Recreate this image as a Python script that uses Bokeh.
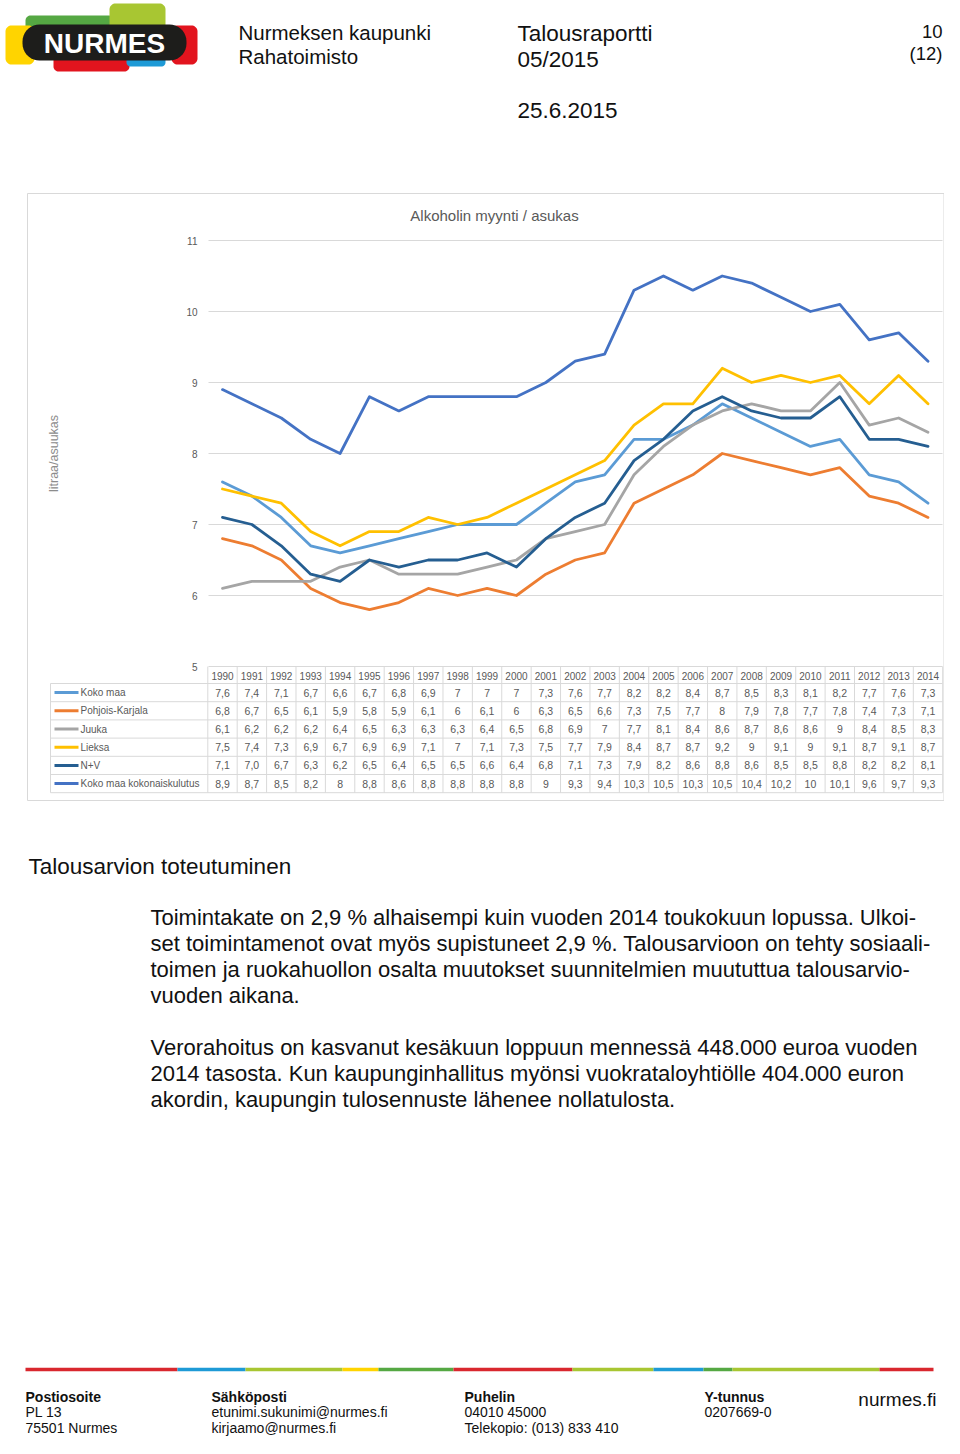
import numpy as np
from bokeh.plotting import figure
from bokeh.models import Range1d, ColumnDataSource
from bokeh.core.properties import value
from bokeh.embed import file_html
from bokeh.resources import INLINE

# ---------------- data ----------------
years = list(range(1990, 2015))
koko_maa = [7.6, 7.4, 7.1, 6.7, 6.6, 6.7, 6.8, 6.9, 7, 7, 7, 7.3, 7.6, 7.7, 8.2, 8.2, 8.4, 8.7, 8.5, 8.3, 8.1, 8.2, 7.7, 7.6, 7.3]
pohjois_karjala = [6.8, 6.7, 6.5, 6.1, 5.9, 5.8, 5.9, 6.1, 6, 6.1, 6, 6.3, 6.5, 6.6, 7.3, 7.5, 7.7, 8, 7.9, 7.8, 7.7, 7.8, 7.4, 7.3, 7.1]
juuka = [6.1, 6.2, 6.2, 6.2, 6.4, 6.5, 6.3, 6.3, 6.3, 6.4, 6.5, 6.8, 6.9, 7, 7.7, 8.1, 8.4, 8.6, 8.7, 8.6, 8.6, 9, 8.4, 8.5, 8.3]
lieksa = [7.5, 7.4, 7.3, 6.9, 6.7, 6.9, 6.9, 7.1, 7, 7.1, 7.3, 7.5, 7.7, 7.9, 8.4, 8.7, 8.7, 9.2, 9, 9.1, 9, 9.1, 8.7, 9.1, 8.7]
n_v = [7.1, 7.0, 6.7, 6.3, 6.2, 6.5, 6.4, 6.5, 6.5, 6.6, 6.4, 6.8, 7.1, 7.3, 7.9, 8.2, 8.6, 8.8, 8.6, 8.5, 8.5, 8.8, 8.2, 8.2, 8.1]
kokonaiskulutus = [8.9, 8.7, 8.5, 8.2, 8, 8.8, 8.6, 8.8, 8.8, 8.8, 8.8, 9, 9.3, 9.4, 10.3, 10.5, 10.3, 10.5, 10.4, 10.2, 10, 10.1, 9.6, 9.7, 9.3]

series_names = ["Koko maa", "Pohjois-Karjala", "Juuka", "Lieksa", "N+V", "Koko maa kokonaiskulutus"]
series_values = [koko_maa, pohjois_karjala, juuka, lieksa, n_v, kokonaiskulutus]
series_fixed_decimal = [False, False, False, False, True, False]
series_colors = ["#5B9BD5", "#ED7D31", "#A5A5A5", "#FFC000", "#255E91", "#4472C4"]
y_ticks = [5, 6, 7, 8, 9, 10, 11]

chart_title = "Alkoholin myynti / asukas"
y_title = "litraa/asuukas"

FONT = value("Liberation Sans")


def fmt(v, fixed):
    if fixed:
        return f"{v:.1f}".replace(".", ",")
    if float(v) == int(v):
        return str(int(v))
    return f"{v:g}".replace(".", ",")


def lin_range(v0, p0, v1, p1, p_start, p_end):
    slope = (v1 - v0) / (p1 - p0)
    return Range1d(v0 + (p_start - p0) * slope, v0 + (p_end - p0) * slope)


def rrect(x0, y0, x1, y1, r, n=10):
    xs, ys = [], []
    for cx, cy, a0 in [(x0 + r, y0 + r, 180), (x1 - r, y0 + r, 270), (x1 - r, y1 - r, 0), (x0 + r, y1 - r, 90)]:
        t = np.radians(np.linspace(a0, a0 + 90, n))
        xs += list(cx + r * np.cos(t))
        ys += list(cy + r * np.sin(t))
    return xs, ys


# ---------------- page figure (page pixel coordinates) ----------------
W, H = 944, 1438
p = figure(width=W, height=H, x_range=Range1d(0, W), y_range=Range1d(H, 0),
           output_backend="svg", toolbar_location=None, min_border=0,
           x_axis_type=None, y_axis_type=None, title=None)
p.outline_line_color = None
p.background_fill_color = "white"
p.border_fill_color = "white"

# chart scales: years -> x, litres -> y
p.extra_x_ranges = {"yr": lin_range(1990, 222, 2014, 927.5, 0, W)}
p.extra_y_ranges = {"val": lin_range(5, 666, 11, 240, H, 0)}

# ---------------- logo ----------------
logo_parts = [
    ((25, 15, 113, 44, 5), "#55A843"),
    ((109, 3, 165, 46, 6), "#A8C632"),
    ((5, 25, 34, 64, 6), "#FFD400"),
    ((171, 25, 197, 64, 6), "#E2141E"),
    ((53, 47, 129, 71, 5), "#E2141E"),
    ((126, 50, 165, 66, 4), "#1E9AD6"),
    ((22, 24, 186, 60, 17), "#1D1D1B"),
]
for (x0, y0, x1, y1, r), c in logo_parts:
    xs, ys = rrect(x0, y0, x1, y1, r)
    p.patch(xs, ys, fill_color=c, line_color=None)
p.text(x=[104], y=[43], text=["NURMES"], text_font=FONT, text_font_style="bold",
       text_font_size="28px", text_color="white", text_align="center", text_baseline="middle")


def txt(x, y, s, size, color="#111111", align="left", style="normal", baseline="middle", angle=0):
    p.text(x=[x], y=[y], text=[s], text_font=FONT, text_font_size=size, text_color=color,
           text_align=align, text_baseline=baseline, text_font_style=style, angle=angle)


# ---------------- header ----------------
txt(238, 32, "Nurmeksen kaupunki", "20.5px")
txt(238, 56, "Rahatoimisto", "20.5px")
txt(517, 33, "Talousraportti", "22.5px")
txt(517, 59, "05/2015", "22.5px")
txt(942, 31, "10", "18.5px", align="right")
txt(942, 53, "(12)", "18.5px", align="right")
txt(517, 110, "25.6.2015", "22.5px")

# ---------------- chart box ----------------
p.quad(left=[27], right=[943.5], top=[193], bottom=[800], fill_color=None, line_color="#D9D9D9", line_width=1)
txt(494, 215, chart_title, "15px", color="#595959", align="center")
txt(53, 453, y_title, "12.5px", color="#8C8C8C", align="center", angle=np.pi / 2)

# gridlines and y tick labels
p.segment(x0=[208] * len(y_ticks), x1=[942] * len(y_ticks), y0=y_ticks, y1=y_ticks,
          y_range_name="val", line_color="#D9D9D9", line_width=1)
p.text(x=[197] * len(y_ticks), y=y_ticks, text=[str(t) for t in y_ticks], y_range_name="val",
       text_font=FONT, text_font_size="10px", text_color="#595959", text_align="right", text_baseline="middle")

# series lines
for vals, c in zip(series_values, series_colors):
    p.line(x=years, y=vals, x_range_name="yr", y_range_name="val", line_color=c,
           line_width=2.8, line_join="round", line_cap="round")

# ---------------- data table ----------------
header_top, header_bot = 666, 683
row_h = 18.2
n_rows = len(series_names)
row_bounds = [header_bot + i * row_h for i in range(n_rows + 1)]
table_bottom = row_bounds[-1]
grid_c = "#D9D9D9"

edges = [y - 0.5 for y in years] + [years[-1] + 0.5]
p.segment(x0=[50] * len(row_bounds), x1=[942] * len(row_bounds), y0=row_bounds, y1=row_bounds,
          line_color=grid_c, line_width=1)
p.segment(x0=edges, x1=edges, y0=[header_top] * len(edges), y1=[table_bottom] * len(edges),
          x_range_name="yr", line_color=grid_c, line_width=1)
p.segment(x0=[50], x1=[50], y0=[header_bot], y1=[table_bottom], line_color=grid_c, line_width=1)

p.text(x=years, y=[(header_top + header_bot) / 2 + 0.5] * len(years), text=[str(y) for y in years],
       x_range_name="yr", text_font=FONT, text_font_size="10px", text_color="#595959",
       text_align="center", text_baseline="middle")

for i, (name, vals, fixed, c) in enumerate(zip(series_names, series_values, series_fixed_decimal, series_colors)):
    yc = row_bounds[i] + row_h / 2
    p.segment(x0=[54], x1=[78], y0=[yc], y1=[yc], line_color=c, line_width=3)
    p.text(x=[80], y=[yc], text=[name], text_font=FONT, text_font_size="10px", text_color="#595959",
           text_align="left", text_baseline="middle")
    src = ColumnDataSource(dict(x=years, y=[yc] * len(years), t=[fmt(v, fixed) for v in vals]))
    p.text(x="x", y="y", text="t", source=src, x_range_name="yr", text_font=FONT,
           text_font_size="10.5px", text_color="#595959", text_align="center", text_baseline="middle")

# ---------------- body text ----------------
txt(28, 866, "Talousarvion toteutuminen", "22.5px")
para = [
    (917, "Toimintakate on 2,9 % alhaisempi kuin vuoden 2014 toukokuun lopussa.  Ulkoi-"),
    (943, "set toimintamenot ovat myös supistuneet  2,9 %. Talousarvioon on tehty sosiaali-"),
    (969, "toimen ja ruokahuollon osalta muutokset suunnitelmien muututtua talousarvio-"),
    (995, "vuoden aikana."),
    (1047, "Verorahoitus on kasvanut kesäkuun loppuun mennessä 448.000 euroa vuoden"),
    (1073, "2014 tasosta. Kun kaupunginhallitus myönsi vuokrataloyhtiölle 404.000 euron"),
    (1099, "akordin, kaupungin tulosennuste lähenee nollatulosta."),
]
for y, s in para:
    txt(150, y, s, "22px")

# ---------------- footer ----------------
bounds = [25, 177, 245, 342, 378, 453, 572, 653, 703, 732, 879, 933]
fcols = ["#D9272E", "#1E9AD6", "#A8C632", "#FFD400", "#55A843", "#D9272E",
         "#A8C632", "#1E9AD6", "#55A843", "#A8C632", "#D9272E"]
p.segment(x0=bounds[:-1], x1=bounds[1:], y0=[1369] * len(fcols), y1=[1369] * len(fcols),
          line_color=fcols, line_width=3.5)

footer_cols = [
    (25, ["Postiosoite", "PL 13", "75501 Nurmes"]),
    (211, ["Sähköposti", "etunimi.sukunimi@nurmes.fi", "kirjaamo@nurmes.fi"]),
    (464, ["Puhelin", "04010 45000", "Telekopio: (013) 833 410"]),
    (704, ["Y-tunnus", "0207669-0"]),
]
for x, lines in footer_cols:
    for j, s in enumerate(lines):
        txt(x, 1396 + j * 15.5, s, "14px", style="bold" if j == 0 else "normal")
txt(936, 1399, "nurmes.fi", "19px", align="right")

open("out.html", "w").write(file_html(p, INLINE))
